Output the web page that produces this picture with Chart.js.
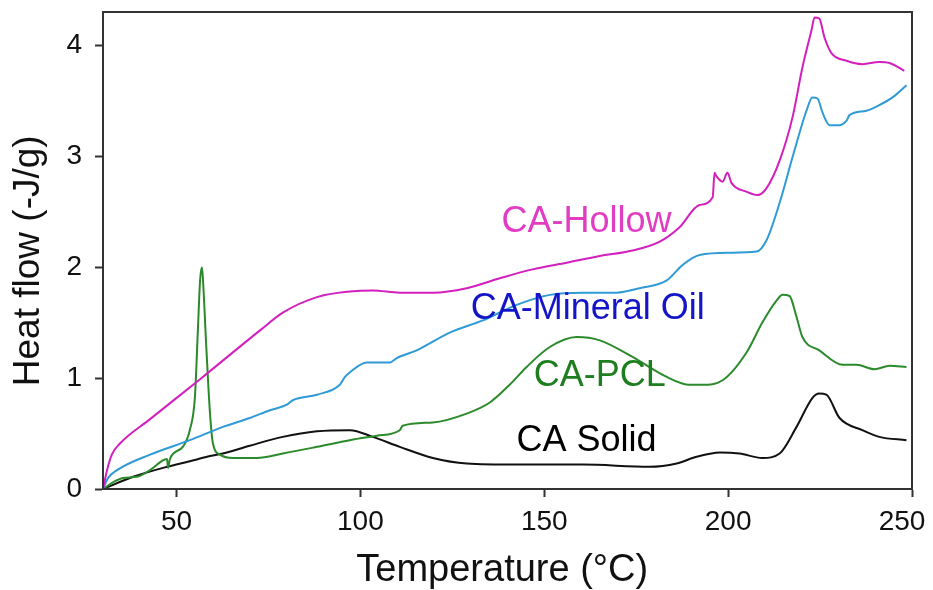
<!DOCTYPE html>
<html>
<head>
<meta charset="utf-8">
<script src="https://cdn.jsdelivr.net/npm/chart.js@4.4.1/dist/chart.umd.min.js"></script>
<style>
  html, body { margin: 0; padding: 0; background: #fff; }
  #wrap { width: 933px; height: 590px; }
</style>
</head>
<body>
<div id="wrap"><canvas id="dsc" width="933" height="590"></canvas></div>
<script>
// DSC traces, temperature in °C and heat flow in -J/g
const hollowT = [30, 31.1, 32.4, 34.6, 42.8, 56.4, 72.7, 78.9, 88.2, 97.1, 103.4, 110.7, 119.7, 128.9, 137.9, 146.8, 156.1, 165.1, 174.0, 181.4, 186.8, 192.2, 195.8, 196.3, 196.8, 198.5, 199.8, 200.9, 205.0, 208.0, 210.4, 214.0, 217.5, 220.2, 222.7, 223.5, 224.8, 226.2, 228.1, 232.2, 236.5, 241.1, 243.9, 247.9]
const hollowQ = [0, 0.17, 0.31, 0.41, 0.63, 0.99, 1.43, 1.59, 1.73, 1.78, 1.79, 1.77, 1.77, 1.81, 1.90, 1.98, 2.04, 2.10, 2.15, 2.23, 2.36, 2.56, 2.63, 2.85, 2.82, 2.77, 2.85, 2.76, 2.68, 2.65, 2.71, 2.96, 3.35, 3.80, 4.14, 4.25, 4.24, 4.07, 3.93, 3.86, 3.83, 3.85, 3.84, 3.77]

const oilT = [30, 31.4, 33.8, 42.8, 53.6, 62.6, 69.9, 75.4, 80.0, 81.6, 88.2, 94.4, 95.8, 97.1, 101.7, 108.0, 109.9, 115.3, 124.3, 133.3, 142.5, 151.5, 160.4, 169.7, 175.9, 183.3, 187.6, 192.2, 200.4, 207.7, 210.4, 214.0, 217.5, 221.3, 222.9, 224.3, 225.7, 227.6, 230.3, 232.2, 233.0, 237.6, 241.1, 244.7, 248.5]
const oilQ = [0, 0.10, 0.17, 0.31, 0.44, 0.56, 0.64, 0.71, 0.76, 0.80, 0.85, 0.94, 1.01, 1.05, 1.14, 1.14, 1.18, 1.25, 1.41, 1.52, 1.66, 1.75, 1.77, 1.77, 1.81, 1.88, 2.02, 2.11, 2.13, 2.14, 2.24, 2.58, 2.99, 3.41, 3.53, 3.52, 3.39, 3.28, 3.28, 3.32, 3.37, 3.41, 3.46, 3.53, 3.64]

const pclT = [30, 32.7, 35.4, 39.2, 42.8, 47.4, 47.7, 48.2, 51.7, 53.6, 55.0, 55.8, 56.4, 56.9, 57.2, 58.0, 59.1, 59.9, 61.8, 65.3, 71.8, 78.9, 88.2, 97.1, 104.5, 110.7, 111.5, 119.7, 128.9, 135.2, 140.6, 145.2, 151.5, 158.8, 165.1, 174.0, 183.3, 189.5, 193.0, 198.5, 205.0, 209.3, 213.2, 214.8, 216.7, 218.6, 220.2, 224.8, 231.1, 234.9, 239.8, 243.9, 248.5]
const pclQ = [0, 0.06, 0.10, 0.11, 0.17, 0.27, 0.19, 0.27, 0.38, 0.53, 0.83, 1.43, 1.88, 2.00, 1.88, 1.34, 0.68, 0.41, 0.31, 0.28, 0.28, 0.32, 0.38, 0.44, 0.48, 0.53, 0.57, 0.60, 0.68, 0.78, 0.94, 1.10, 1.28, 1.37, 1.34, 1.19, 1.01, 0.94, 0.94, 0.98, 1.23, 1.50, 1.70, 1.75, 1.74, 1.55, 1.37, 1.25, 1.12, 1.12, 1.08, 1.11, 1.10]

const solidT = [30, 38.2, 47.4, 53.6, 58.3, 62.6, 69.9, 78.9, 88.2, 97.1, 103.4, 110.7, 119.7, 128.9, 142.5, 160.4, 178.6, 186.0, 191.4, 197.7, 203.1, 209.3, 214.0, 218.6, 222.9, 224.8, 226.7, 230.3, 236.5, 241.1, 248.5]
const solidQ = [0, 0.11, 0.20, 0.25, 0.29, 0.32, 0.39, 0.47, 0.52, 0.53, 0.47, 0.38, 0.28, 0.23, 0.22, 0.22, 0.20, 0.23, 0.29, 0.33, 0.32, 0.28, 0.32, 0.56, 0.82, 0.86, 0.85, 0.64, 0.53, 0.47, 0.44]

const xTicks = [50, 100, 150, 200, 250]
const yTicks = [0, 1, 2, 3, 4]

// curve labels: text, position in data units, colour
const curveLabels = [
  { text: "CA-Hollow", t: 161.5, q: 2.41, color: "#e03cc4" },
  { text: "CA-Mineral Oil", t: 161.8, q: 1.62, color: "#1414c8" },
  { text: "CA-PCL", t: 165.1, q: 1.02, color: "#1e7d1e" },
  { text: "CA Solid", t: 161.5, q: 0.43, color: "#000000" },
]

const pts = (ts, qs) => ts.map((t, i) => ({ x: t, y: qs[i] }))

const line = (label, ts, qs, color) => ({
  label,
  data: pts(ts, qs),
  borderColor: color,
  backgroundColor: color,
  borderWidth: 2,
  pointRadius: 0,
  fill: false,
  cubicInterpolationMode: "monotone",
})

const FONT = "'Liberation Sans', Arial, sans-serif"
const AXIS = "#333333"

// box around the plot area and the curve labels
const framePlugin = {
  id: "frame",
  beforeDraw(chart) {
    // keep the last x label inside the canvas
    const items = chart.scales.x.getLabelItems()
    const last = items[items.length - 1]
    if (last && !last._shifted) {
      last.options.translation[0] -= 10
      last._shifted = true
    }
  },
  afterDatasetsDraw(chart) {
    const { ctx, chartArea: a, scales } = chart
    ctx.save()
    ctx.strokeStyle = AXIS
    ctx.lineWidth = 2
    ctx.strokeRect(a.left, a.top, a.right - a.left, a.bottom - a.top)
    ctx.font = "36px " + FONT
    ctx.textAlign = "center"
    ctx.textBaseline = "middle"
    curveLabels.forEach((l) => {
      ctx.fillStyle = l.color
      ctx.fillText(l.text, scales.x.getPixelForValue(l.t), scales.y.getPixelForValue(l.q))
    })
    ctx.restore()
  },
}

new Chart(document.getElementById("dsc"), {
  type: "line",
  data: {
    datasets: [
      line("CA-Hollow", hollowT, hollowQ, "#d21fbe"),
      line("CA-Mineral Oil", oilT, oilQ, "#2f9ad6"),
      line("CA-PCL", pclT, pclQ, "#2b8a2b"),
      line("CA Solid", solidT, solidQ, "#111111"),
    ],
  },
  options: {
    responsive: false,
    animation: false,
    layout: { padding: { top: 12, right: 21, left: 0, bottom: 0 } },
    plugins: { legend: { display: false }, tooltip: { enabled: false } },
    scales: {
      x: {
        type: "linear",
        min: 30,
        max: 250,
        afterBuildTicks: (s) => { s.ticks = xTicks.map((v) => ({ value: v })) },
        afterFit: (s) => {
          s.height = 101
          s.paddingLeft = 0
          s.paddingRight = 0
        },
        grid: { drawOnChartArea: false, tickLength: 8, tickColor: AXIS, tickWidth: 2 },
        border: { color: AXIS, width: 2 },
        ticks: { color: "#111", padding: 8, maxRotation: 0, font: { family: FONT, size: 28 } },
        title: {
          display: true,
          text: "Temperature (°C) ",
          color: "#111",
          padding: { top: 0, bottom: 0 },
          font: { family: FONT, size: 38, lineHeight: 1 },
        },
      },
      y: {
        min: 0,
        max: 4.3,
        afterBuildTicks: (s) => { s.ticks = yTicks.map((v) => ({ value: v })) },
        afterFit: (s) => {
          s.width = 103
          s.paddingTop = 0
          s.paddingBottom = 0
        },
        grid: { drawOnChartArea: false, tickLength: 8, tickColor: AXIS, tickWidth: 2 },
        border: { color: AXIS, width: 2 },
        ticks: { color: "#111", padding: 13, font: { family: FONT, size: 28 } },
        title: {
          display: true,
          // trailing spaces push the rotated title a little lower
          text: "Heat flow (-J/g)  ",
          color: "#111",
          padding: { top: 10, bottom: 0 },
          font: { family: FONT, size: 37, lineHeight: 1 },
        },
      },
    },
  },
  plugins: [framePlugin],
})
</script>
</body>
</html>
